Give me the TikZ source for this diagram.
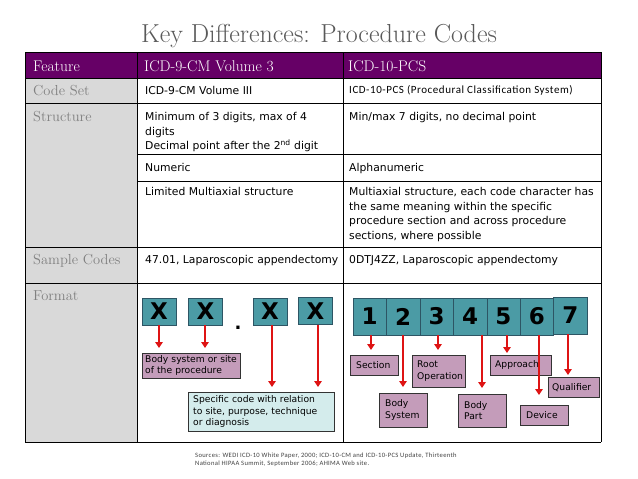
\documentclass[tikz,border=0pt]{standalone}
\usepackage{fontspec}
\usetikzlibrary{arrows.meta}

\newfontfamily\cellfont{DejaVu Sans}
\newfontfamily\calfont{Carlito}[LetterSpace=5]

\definecolor{headpurple}{RGB}{102,0,102}
\definecolor{featgray}{RGB}{217,217,217}
\definecolor{titlegray}{RGB}{89,89,89}
\definecolor{textgray}{RGB}{128,128,128}
\definecolor{codeteal}{RGB}{75,155,165}
\definecolor{codeedge}{RGB}{45,85,100}
\definecolor{labelmauve}{RGB}{196,156,186}
\definecolor{notecyan}{RGB}{212,236,236}
\definecolor{arrowred}{RGB}{222,20,20}

\tikzset{
	headtext/.style={anchor=base west, text=white, inner sep=0pt, font=\fontsize{15.5}{18}\selectfont},
	feattext/.style={anchor=base west, text=textgray, inner sep=0pt, font=\fontsize{14.5}{17}\selectfont},
	celltext/.style={anchor=base west, align=left, inner sep=0pt, font=\cellfont\fontsize{10.8}{14.7}\selectfont},
	codebox/.style={draw=codeedge, fill=codeteal, inner sep=0pt, font=\cellfont\bfseries\fontsize{23}{23}\selectfont},
	labelbox/.style={draw=black!80, fill=labelmauve, anchor=north west, align=left, inner xsep=4pt, inner ysep=0pt, font=\cellfont\fontsize{9.2}{11.5}\selectfont},
	redarrow/.style={draw=arrowred, line width=1.8pt, -{Triangle[width=7.5pt,length=6pt]}}
}

\begin{document}
\begin{tikzpicture}[x=1pt, y=-1pt]
		\useasboundingbox (0,0) rectangle (638,479);

		\node[anchor=base, text=titlegray, font=\fontsize{26}{30}\selectfont] (title) at (319,42) {Key Differences: Procedure Codes};

		\fill[headpurple] (25,52) rectangle (601,78);
		\fill[featgray] (25,78) rectangle (137,442);
		\draw[line width=0.9pt] (25,52) -- (601,52);
		\draw[line width=0.9pt] (25,78) -- (601,78);
		\draw[line width=0.9pt] (25,103) -- (601,103);
		\draw[line width=0.9pt] (137,154) -- (601,154);
		\draw[line width=0.9pt] (137,181) -- (601,181);
		\draw[line width=0.9pt] (25,247) -- (601,247);
		\draw[line width=0.9pt] (25,283) -- (601,283);
		\draw[line width=0.9pt] (25,442) -- (601,442);
		\draw[line width=0.9pt] (25,52) -- (25,442);
		\draw[line width=0.9pt] (137,52) -- (137,442);
		\draw[line width=0.9pt] (343,52) -- (343,442);
		\draw[line width=0.9pt] (601,52) -- (601,442);

		\node[headtext] (hfeat) at (33,71) {Feature};
		\node[headtext] (hicd9) at (144,71) {ICD-9-CM Volume 3};
		\node[headtext] (hicd10) at (348,71) {ICD-10-PCS};

		\node[feattext] (codeset) at (33,95) {Code Set};
		\node[feattext] (structure) at (33,121) {Structure};
		\node[feattext] (samples) at (33,264) {Sample Codes};
		\node[feattext] (format) at (33,300) {Format};

		\node[celltext] (set9) at (145,94) {ICD-9-CM Volume III};
		\node[celltext, font=\calfont\fontsize{11}{13}\selectfont] (set10) at (349,93) {ICD-10-PCS (Procedural Classification System)};
		\node[celltext, anchor=north west] (struct9) at (145,112) {Minimum of 3 digits, max of 4\\digits\\Decimal point after the 2\textsuperscript{nd} digit};
		\node[celltext] (struct10) at (349,120) {Min/max 7 digits, no decimal point};
		\node[celltext] (num9) at (145,171) {Numeric};
		\node[celltext] (num10) at (349,171) {Alphanumeric};
		\node[celltext] (axis9) at (145,195) {Limited Multiaxial structure};
		\node[celltext, anchor=north west] (axis10) at (349,187) {Multiaxial structure, each code character has\\the same meaning within the specific\\procedure section and across procedure\\sections, where possible};
		\node[celltext] (sample9) at (145,263) {47.01, Laparoscopic appendectomy};
		\node[celltext] (sample10) at (349,263) {0DTJ4ZZ, Laparoscopic appendectomy};

		\node[codebox, minimum width=34pt, minimum height=27pt] (x1) at (159,311.5) {X};
		\node[codebox, minimum width=34pt, minimum height=27pt] (x2) at (205.5,311.5) {X};
		\node[anchor=base, font=\cellfont\bfseries\fontsize{18}{18}\selectfont] (dot) at (238,329) {.};
		\node[codebox, minimum width=34pt, minimum height=27pt] (x3) at (270,311.5) {X};
		\node[codebox, minimum width=34pt, minimum height=27pt] (x4) at (315.5,311) {X};

		\node[labelbox, inner xsep=3pt, text width=92pt, minimum height=25pt] (bodysite) at (142,353) {Body system or site\\of the procedure};
		\node[labelbox, fill=notecyan, inner xsep=5pt, text width=136pt, minimum height=39pt] (specific) at (188,392) {Specific code with relation\\to site, purpose, technique\\or diagnosis};

		\node[codebox, minimum width=33.4pt, minimum height=37pt] (d1) at (369.7,316.5) {1};
		\node[codebox, minimum width=33.4pt, minimum height=37pt] (d2) at (403.1,316.5) {2};
		\node[codebox, minimum width=33.4pt, minimum height=37pt] (d3) at (436.6,316.5) {3};
		\node[codebox, minimum width=33.4pt, minimum height=37pt] (d4) at (470,316.5) {4};
		\node[codebox, minimum width=33.4pt, minimum height=37pt] (d5) at (503.4,316.5) {5};
		\node[codebox, minimum width=33.4pt, minimum height=37pt] (d6) at (536.9,316.5) {6};
		\node[codebox, minimum width=33.4pt, minimum height=37pt] (d7) at (570.3,315.5) {7};

		\node[labelbox, inner xsep=6pt, text width=36pt, minimum height=20pt] (section) at (350,355) {Section};
		\node[labelbox, inner xsep=5pt, text width=43pt, minimum height=32pt] (rootop) at (412,355) {Root\\Operation};
		\node[labelbox, inner xsep=5pt, text width=51pt, minimum height=20pt] (approach) at (490,355) {Approach};
		\node[labelbox, text width=43pt, minimum height=20pt] (qualifier) at (548,377) {Qualifier};
		\node[labelbox, inner xsep=6pt, text width=36pt, minimum height=34pt] (bodysys) at (379,393) {Body\\System};
		\node[labelbox, inner xsep=6pt, text width=36pt, minimum height=33pt] (bodypart) at (458,394) {Body\\Part};
		\node[labelbox, inner xsep=6pt, text width=36pt, minimum height=20pt] (device) at (520,405) {Device};

		\coordinate (e1) at (159,348);
		\coordinate (e2) at (205,348);
		\coordinate (e3) at (272,387);
		\coordinate (e4) at (318,387);
		\draw[redarrow] (x1.south -| e1) -- (e1);
		\draw[redarrow] (x2.south -| e2) -- (e2);
		\draw[redarrow] (x3.south -| e3) -- (e3);
		\draw[redarrow] (x4.south -| e4) -- (e4);

		\coordinate (p1) at (371,350);
		\coordinate (p2) at (403,387);
		\coordinate (p3) at (438,350);
		\coordinate (p4) at (482,388);
		\coordinate (p5) at (507,353);
		\coordinate (p6) at (539,395);
		\coordinate (p7) at (568,375);
		\draw[redarrow] (d1.south -| p1) -- (p1);
		\draw[redarrow] (d2.south -| p2) -- (p2);
		\draw[redarrow] (d3.south -| p3) -- (p3);
		\draw[redarrow] (d4.south -| p4) -- (p4);
		\draw[redarrow] (d5.south -| p5) -- (p5);
		\draw[redarrow] (d6.south -| p6) -- (p6);
		\draw[redarrow] (d7.south -| p7) -- (p7);

		\node[anchor=north west, align=left, inner sep=0pt, text=black!75, font=\calfont\fontsize{6.6}{7.4}\selectfont] (sources) at (195,453) {Sources: WEDI ICD-10 White Paper, 2000; ICD-10-CM and ICD-10-PCS Update, Thirteenth\\National HIPAA Summit, September 2006; AHIMA Web site.};
	\end{tikzpicture}
\end{document}
